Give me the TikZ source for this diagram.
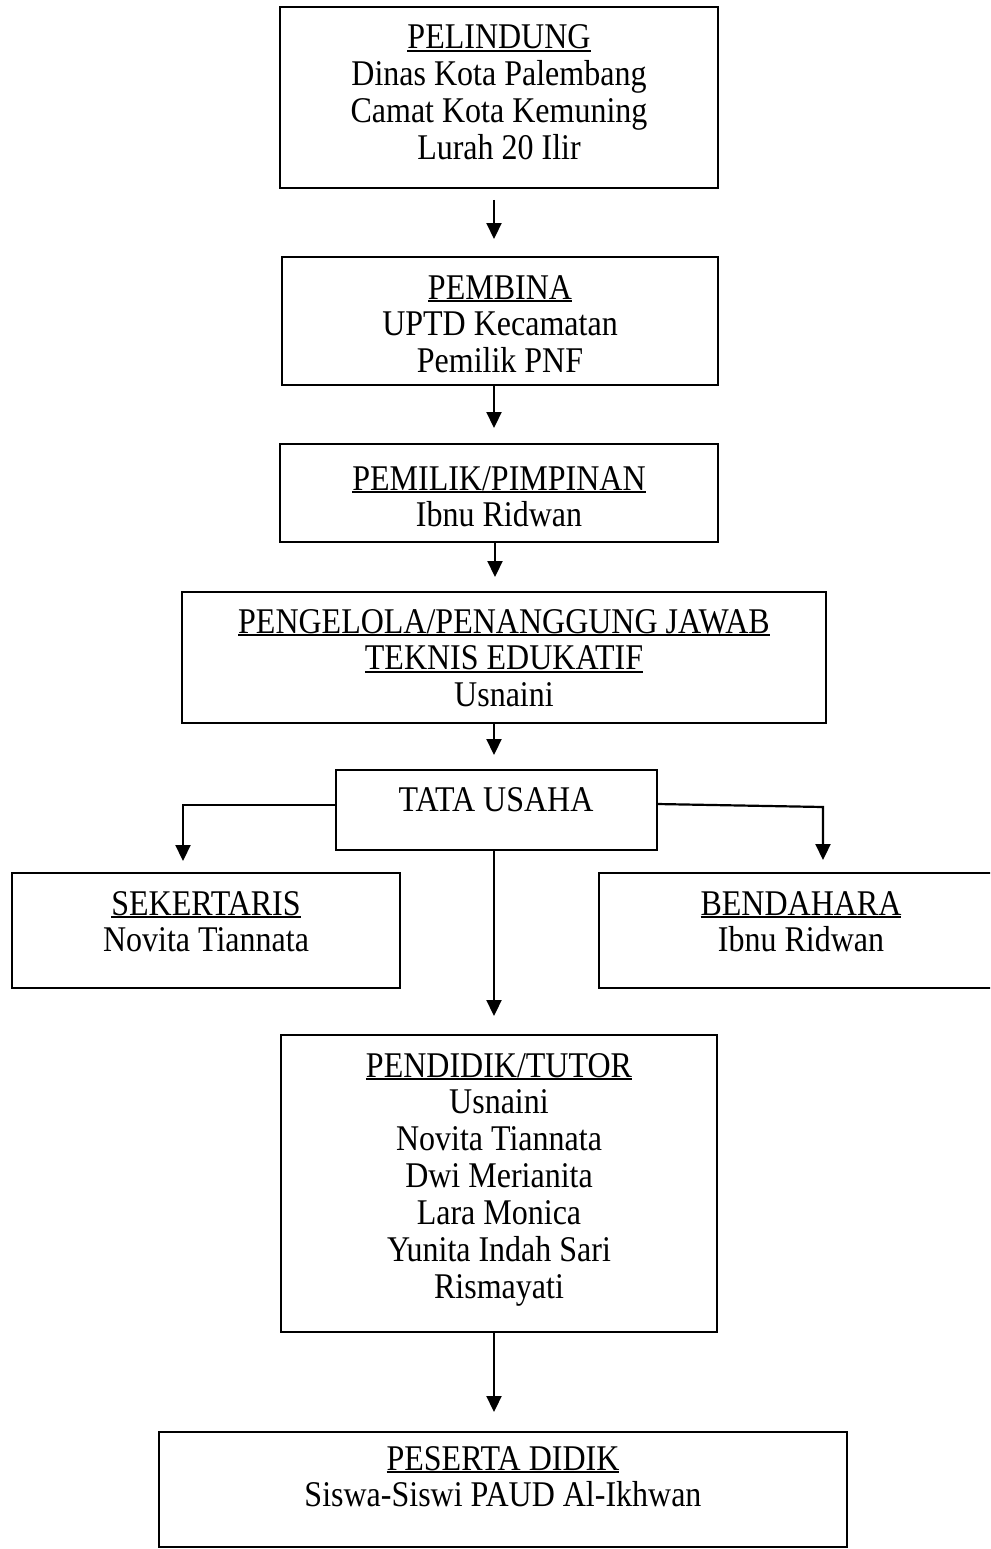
\documentclass[tikz,border=0pt]{standalone}
\usepackage{graphicx}
\usepackage{fontspec}
\setmainfont{Liberation Serif}
\usetikzlibrary{arrows.meta}
\newcommand\myul[1]{\setbox0\hbox{#1}\rlap{\rule[-2.5pt]{\wd0}{1.8pt}}\box0}
\newcommand\boxtext[1]{\scalebox{1}[1.13]{\fontsize{32}{32.7}\selectfont\setlength\tabcolsep{0pt}\begin{tabular}[t]{c}#1\end{tabular}}}
\tikzset{
  orgbox/.style={draw=black, line width=2pt, rectangle, inner sep=0pt, outer sep=0pt},
  orgtxt/.style={anchor=base, inner sep=0pt, outer sep=0pt, text=black},
  arr/.style={draw=black, line width=2.2pt, -{Triangle[length=16pt,width=15pt]}},
}
\begin{document}
\begin{tikzpicture}[x=1pt,y=-1pt]
\clip (0,0) rectangle (990,1549);
\fill[white] (0,0) rectangle (990,1549);
% boxes
\node[orgbox, minimum width=438pt, minimum height=181pt] (b1) at (499,97.5) {};
\node[orgbox, minimum width=436pt, minimum height=128pt] (b2) at (500,321) {};
\node[orgbox, minimum width=438pt, minimum height=98pt] (b3) at (499,493) {};
\node[orgbox, minimum width=644pt, minimum height=131pt] (b4) at (504,657.5) {};
\node[orgbox, minimum width=321pt, minimum height=80pt] (bt) at (496.5,810) {};
\node[orgbox, minimum width=388pt, minimum height=115pt] (bs) at (206,930.5) {};
\node[orgbox, minimum width=404pt, minimum height=115pt] (bb) at (801,930.5) {};
\node[orgbox, minimum width=436pt, minimum height=297pt] (bp) at (499,1183.5) {};
\node[orgbox, minimum width=688pt, minimum height=115pt] (bd) at (503,1489.5) {};
% texts
\node[orgtxt] (t1) at (499,49) {\boxtext{\myul{PELINDUNG}\\Dinas Kota Palembang\\Camat Kota Kemuning\\Lurah 20 Ilir}};
\node[orgtxt] (t2) at (500,299) {\boxtext{\myul{PEMBINA}\\UPTD Kecamatan\\Pemilik PNF}};
\node[orgtxt] (t3) at (499,490) {\boxtext{\myul{PEMILIK/PIMPINAN}\\Ibnu Ridwan}};
\node[orgtxt] (t4) at (504,633) {\boxtext{\myul{PENGELOLA/PENANGGUNG JAWAB}\\\myul{TEKNIS EDUKATIF}\\Usnaini}};
\node[orgtxt] (tt) at (496,811) {\boxtext{TATA USAHA}};
\node[orgtxt] (ts) at (206,915) {\boxtext{\myul{SEKERTARIS}\\Novita Tiannata}};
\node[orgtxt] (tb) at (801,915) {\boxtext{\myul{BENDAHARA}\\Ibnu Ridwan}};
\node[orgtxt] (tp) at (499,1077) {\boxtext{\myul{PENDIDIK/TUTOR}\\Usnaini\\Novita Tiannata\\Dwi Merianita\\Lara Monica\\Yunita Indah Sari\\Rismayati}};
\node[orgtxt] (td) at (503,1470) {\boxtext{\myul{PESERTA DIDIK}\\Siswa-Siswi PAUD Al-Ikhwan}};
% connector coordinates
\coordinate (xa) at (494,0);
\coordinate (xb) at (495,0);
\coordinate (lc) at (183,805);
\coordinate (rc) at (823,807);
% connectors
\draw[arr, shorten <=12pt, shorten >=18pt] (b1.south -| xa) -- (b2.north -| xa);
\draw[arr, shorten >=16pt] (b2.south -| xa) -- (b3.north -| xa);
\draw[arr, shorten >=15pt] (b3.south -| xb) -- (b4.north -| xb);
\draw[arr, shorten >=15pt] (b4.south -| xa) -- (bt.north -| xa);
\draw[arr, shorten >=12pt] (bt.west |- lc) -- (lc) -- (lc |- bs.north);
\draw[arr, shorten >=13pt] ([yshift=6pt]bt.east) -- (rc) -- (rc |- bb.north);
\draw[arr, shorten >=19pt] (bt.south -| xa) -- (bp.north -| xa);
\draw[arr, shorten >=20pt] (bp.south -| xa) -- (bd.north -| xa);
\end{tikzpicture}
\end{document}
